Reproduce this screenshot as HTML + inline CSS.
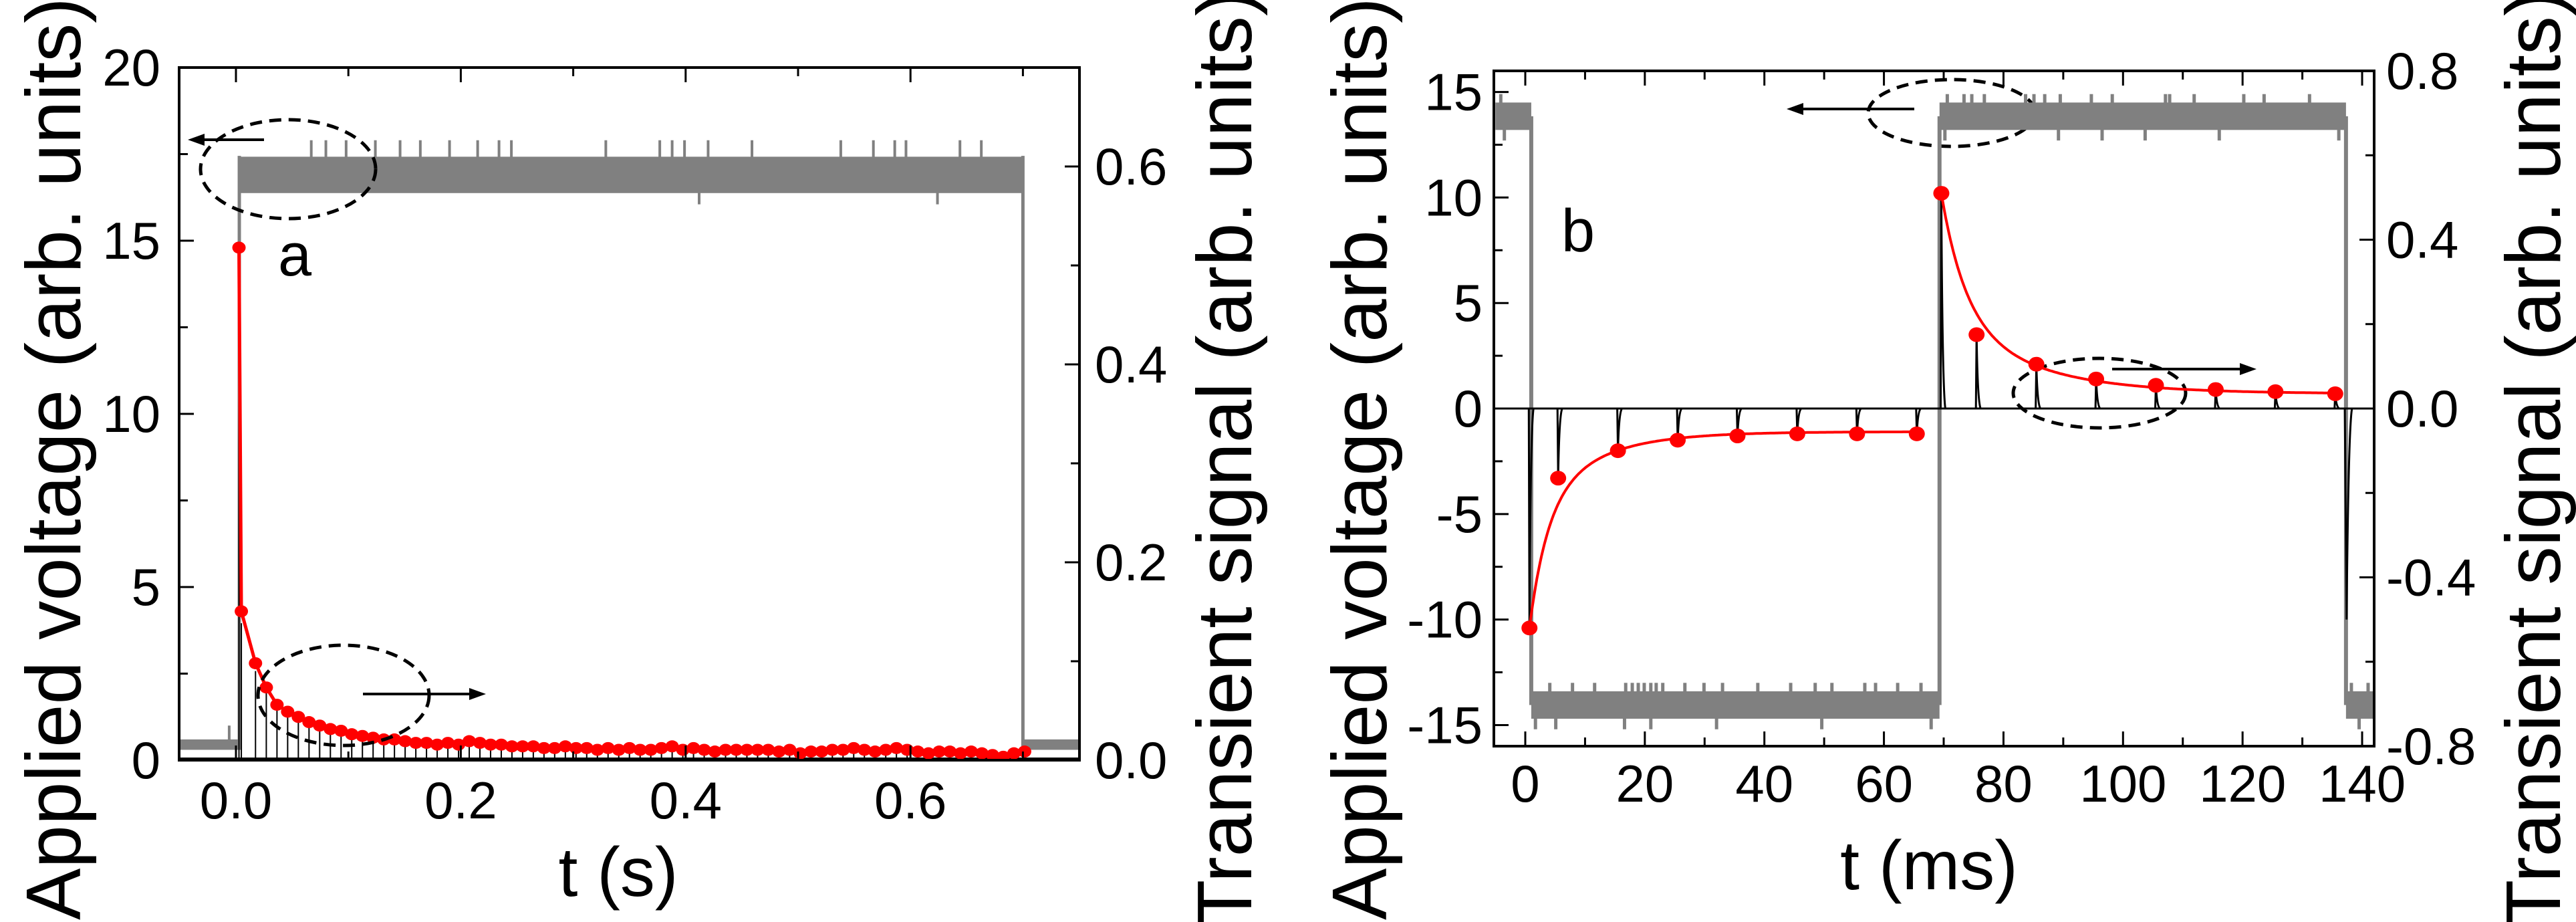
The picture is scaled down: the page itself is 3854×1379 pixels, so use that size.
<!DOCTYPE html>
<html><head><meta charset="utf-8"><style>
html,body{margin:0;padding:0;background:#fff;}
svg{display:block;font-family:"Liberation Sans",Arial,sans-serif;}
</style></head><body>
<svg id="fig" width="3854" height="1379" viewBox="0 0 3854 1379" xmlns="http://www.w3.org/2000/svg">
<g id="pa"></g>
<g id="pb"></g>
</svg>
<script>
// ---------- Panel A data ----------
const tA_early = [0.0027, 0.0048, 0.0174, 0.027];
const transientA = [14.8,4.3,2.8,2.1,
1.6,1.4,1.25,1.1,1.0,0.9,0.85,0.75,0.7,0.65,
0.6,0.6,0.55,0.5,0.5,0.45,0.5,0.45,0.55,0.5,
0.45,0.45,0.4,0.4,0.4,0.35,0.35,0.4,0.35,0.35,
0.3,0.35,0.3,0.35,0.3,0.3,0.35,0.4,0.3,0.35,
0.3,0.25,0.3,0.3,0.3,0.3,0.3,0.25,0.3,0.2,
0.25,0.25,0.3,0.3,0.35,0.3,0.25,0.3,0.35,0.3,
0.25,0.2,0.25,0.25,0.2,0.25,0.2,0.15,0.1,0.2,
0.25];
const voltA_levels = [0.45, 16.9, 0.45];
const voltA_edges = [0.003, 0.700];
const spikesUpA = [0.067,0.080,0.098,0.124,0.146,0.164,0.190,0.215,0.234,0.245,0.329,0.377,0.388,0.399,0.420,0.459,0.538,0.567,0.586,0.596,0.644,0.663];
const spikesDownA = [0.412,0.624];
const xTicksA = [0.0,0.2,0.4,0.6];
const yTicksLA = [0,5,10,15,20];
const yTicksRA = [0.0,0.2,0.4,0.6];
// ---------- Panel B data ----------
const tB = [0.7,5.5,15.5,25.5,35.5,45.5,55.5,65.5,69.6,75.5,85.5,95.5,105.5,115.5,125.5,135.5];
const transientB = [-10.4,-3.3,-2.0,-1.5,-1.3,-1.2,-1.2,-1.2,10.2,3.5,2.1,1.4,1.1,0.9,0.8,0.7];
const fitNegB = [-1.1, -9.3, 0.6, 3, 10]; // offset, amplitude, weight, tau1, tau2
const fitPosB = [0.7, 9.5, 0.6, 4, 14];
const voltB_edges = [-5, 1.0, 69.3, 137.3, 142];
const voltB_levels = [13.85, -14.05, 13.85, -14.05];
const spikesUpB = [-4.1,70.6,73.4,74.7,76.8,83.7,85.1,86.9,89.5,94.7,98.2,107.1,107.8,111.9,120.2,123.6,131.2,4.1,7.9,11.6,16.8,17.9,18.9,19.9,21.0,21.9,23.0,26.7,29.9,33.0,38.9,44.4,48.5,51.3,56.8,58.6,62.3,66.2,138.2,141];
const spikesDownB = [-3.5,70.2,89.2,96.5,103.7,116.1,136.1,1.7,5.1,16.6,21.0,32.0,49.6,67.9,139.5];
const xTicksB = [0,20,40,60,80,100,120,140];
const yTicksLB = [-15,-10,-5,0,5,10,15];
const yTicksRB = [-0.8,-0.4,0.0,0.4,0.8];

const NS="http://www.w3.org/2000/svg";
function mk(parent, tag, attrs, text){
  const e=document.createElementNS(NS,tag);
  for(const k in attrs) e.setAttribute(k,attrs[k]);
  if(text!==undefined) e.textContent=text;
  parent.appendChild(e); return e;
}
const GRAY="#808080", RED="#ff0000";

// ================= PANEL A =================
(function(){
  const g=document.getElementById('pa');
  const L=268,R=1615,T=101,B=1137;
  const xA=t=>353+t*1682;
  const yL=v=>B-v*(B-T)/20;
  const yR=r=>B-r*(B-T)/0.7;
  const clip=mk(g,'clipPath',{id:'clipA'}); mk(clip,'rect',{x:L,y:T,width:R-L,height:B-T});
  const plot=mk(g,'g',{'clip-path':'url(#clipA)'});
   
  const v=mk(plot,'g',{fill:GRAY,stroke:GRAY});
   
  const xs=[xA(-0.06),xA(voltA_edges[0]),xA(voltA_edges[1]),xA(0.76)];
  const lvH=[0.3,1.05,0.3];
  for(let i=0;i<3;i++){
    const c=voltA_levels[i], h=lvH[i];
    mk(v,'rect',{x:xs[i],y:yL(c+h/2),width:xs[i+1]-xs[i],height:yL(c-h/2)-yL(c+h/2),stroke:'none'});
  }
  mk(v,'line',{x1:xs[1],y1:yL(0.3),x2:xs[1],y2:yL(17.45),'stroke-width':5});
  mk(v,'line',{x1:xs[2],y1:yL(0.3),x2:xs[2],y2:yL(17.45),'stroke-width':5});
  mk(v,'line',{x1:xA(-0.006),y1:yL(0.45),x2:xA(-0.006),y2:yL(1.0),'stroke-width':4});
  spikesUpA.forEach(t=>mk(v,'line',{x1:xA(t),y1:yL(17),x2:xA(t),y2:yL(17.9),'stroke-width':4}));
  spikesDownA.forEach(t=>mk(v,'line',{x1:xA(t),y1:yL(16.8),x2:xA(t),y2:yL(16.05),'stroke-width':4}));
  const tA=tA_early.slice();
  for(let i=0;i<transientA.length-tA_early.length;i++) tA.push(0.0365+0.0095*i);
  const bk=mk(plot,'g',{stroke:'#000'});
   
  mk(bk,'line',{x1:L,y1:yL(0)-2,x2:R,y2:yL(0)-2,'stroke-width':4});
  tA.forEach((t,i)=>mk(bk,'line',{x1:xA(t),y1:yL(0),x2:xA(t),y2:yL(transientA[i]*0.92),'stroke-width':2}));
  const pts=tA.map((t,i)=>xA(t)+','+yL(transientA[i])).join(' ');
  const pl=mk(plot,'polyline',{points:pts,fill:'none',stroke:RED,'stroke-width':5});
   
  tA.forEach((t,i)=>{
    const c=mk(plot,'ellipse',{cx:xA(t),cy:yL(transientA[i]),rx:10,ry:9,fill:RED});
     
  });
  const an=mk(g,'g',{fill:'none',stroke:'#000','stroke-width':5,'stroke-dasharray':'18 11'});
   
  mk(an,'ellipse',{cx:431,cy:253,rx:131,ry:74});
  mk(an,'ellipse',{cx:514,cy:1040,rx:128,ry:75});
  const ar=mk(g,'g',{stroke:'#000','stroke-width':4,fill:'#000'});
   
  mk(ar,'line',{x1:395,y1:209,x2:300,y2:209});
  mk(ar,'polygon',{points:'281,209 306,200 306,218',stroke:'none'});
  mk(ar,'line',{x1:543,y1:1038,x2:705,y2:1038});
  mk(ar,'polygon',{points:'727,1038 702,1029 702,1047',stroke:'none'});
  const la=mk(g,'text',{x:441,y:412,'font-size':90,'text-anchor':'middle'},'a');
   
  const fr=mk(g,'rect',{x:L,y:T,width:R-L,height:B-T,fill:'none',stroke:'#000','stroke-width':4});
   
  const tk=mk(g,'g',{stroke:'#000','stroke-width':3});
   
  for(let k=0;k<=7;k++){const t=k*0.1,x=xA(t),len=(k%2===0)?22:13;
    mk(tk,'line',{x1:x,y1:B,x2:x,y2:B-len}); mk(tk,'line',{x1:x,y1:T,x2:x,y2:T+len});}
  for(let k=0;k<=8;k++){const y=yL(k*2.5),len=(k%2===0)?22:13; mk(tk,'line',{x1:L,y1:y,x2:L+len,y2:y});}
  for(let k=0;k<=7;k++){const y=yR(k*0.1),len=(k%2===0)?22:13; mk(tk,'line',{x1:R,y1:y,x2:R-len,y2:y});}
  xTicksA.forEach(t=>{const e=mk(g,'text',{x:xA(t),y:1224,'font-size':78,'text-anchor':'middle'},t.toFixed(1));
     });
  yTicksLA.forEach(v=>{const e=mk(g,'text',{x:240,y:yL(v)+27,'font-size':78,'text-anchor':'end'},String(v));
     });
  yTicksRA.forEach(v=>{const e=mk(g,'text',{x:1638,y:yR(v)+27,'font-size':78,'text-anchor':'start'},v.toFixed(1));
     });
  const xt=mk(g,'text',{x:925,y:1340,'font-size':104,'text-anchor':'middle'},'t (s)');
   
  const yt=mk(g,'text',{x:0,y:0,'font-size':116,'text-anchor':'middle',transform:'translate(120,686) rotate(-90)'},'Applied voltage (arb. units)');
   
  const yt2=mk(g,'text',{x:0,y:0,'font-size':116,'text-anchor':'middle',transform:'translate(1872,686) rotate(-90)'},'Transient signal (arb. units)');
   
})();

// ================= PANEL B =================
(function(){
  const g=document.getElementById('pb');
  const L=2235,R=3552,T=106,B=1116;
  const xB=t=>2282+t*8.943;
  const yL=v=>611-v*(B-T)/32;
  const yR=r=>611-r*(B-T)/1.6;
  const clip=mk(g,'clipPath',{id:'clipB'}); mk(clip,'rect',{x:L,y:T,width:R-L,height:B-T});
  const plot=mk(g,'g',{'clip-path':'url(#clipB)'});
   
  const an=mk(plot,'g',{fill:'none',stroke:'#000','stroke-width':5,'stroke-dasharray':'18 11'});
   
  mk(an,'ellipse',{cx:2920,cy:169,rx:125,ry:50});
  mk(an,'ellipse',{cx:3141,cy:588,rx:129,ry:52});
  const v=mk(plot,'g',{fill:GRAY,stroke:GRAY});
   
  const h=1.3;
  for(let i=0;i<voltB_levels.length;i++){
    const c=voltB_levels[i],x1=xB(voltB_edges[i]),x2=xB(voltB_edges[i+1]);
    mk(v,'rect',{x:x1,y:yL(c+h/2),width:x2-x1,height:yL(c-h/2)-yL(c+h/2),stroke:'none'});
    if(i>0) mk(v,'line',{x1:x1,y1:yL(voltB_levels[i-1]),x2:x1,y2:yL(c),'stroke-width':6});
  }
  function levelAt(t){for(let i=0;i<voltB_levels.length;i++){if(t<voltB_edges[i+1])return voltB_levels[i];}return voltB_levels[voltB_levels.length-1];}
  spikesUpB.forEach(t=>{const c=levelAt(t);mk(v,'line',{x1:xB(t),y1:yL(c),x2:xB(t),y2:yL(c+1.05),'stroke-width':5});});
  spikesDownB.forEach(t=>{const c=levelAt(t);mk(v,'line',{x1:xB(t),y1:yL(c),x2:xB(t),y2:yL(c-1.15),'stroke-width':5});});
  const bk=mk(plot,'g',{stroke:'#000',fill:'none'});
   
  mk(bk,'line',{x1:L,y1:yL(0),x2:R,y2:yL(0),'stroke-width':3});
  tB.forEach((t,i)=>{
    const x=xB(t),y0=yL(0),y1=yL(transientB[i]);
    mk(bk,'path',{d:`M${x-1},${y0} L${x},${y1} Q${x+1.5},${(y0*0.9+y1*0.1)} ${x+6},${y0}`,'stroke-width':3});
  });
  mk(bk,'path',{d:`M${xB(137.1)},${yL(0)} L${xB(137.4)},${yL(-10)} Q${xB(137.7)},${yL(-1)} ${xB(138.3)},${yL(0)}`,'stroke-width':3});
  function fit(p,t0,t1){let d='';for(let t=t0;t<=t1+1e-9;t+=0.25){const dt=t-t0;
      const y=p[0]+p[1]*(p[2]*Math.exp(-dt/p[3])+(1-p[2])*Math.exp(-dt/p[4]));
      d+=(d?'L':'M')+xB(t).toFixed(1)+','+yL(y).toFixed(1);}return d;}
  const f1=mk(plot,'path',{d:fit(fitNegB,tB[0],tB[7]),fill:'none',stroke:RED,'stroke-width':4});
   
  const f2=mk(plot,'path',{d:fit(fitPosB,tB[8],tB[15]),fill:'none',stroke:RED,'stroke-width':4});
   
  tB.forEach((t,i)=>{
    const c=mk(plot,'ellipse',{cx:xB(t),cy:yL(transientB[i]),rx:12,ry:11,fill:RED});
     
  });
  const ar=mk(g,'g',{stroke:'#000','stroke-width':4,fill:'#000'});
   
  mk(ar,'line',{x1:2864,y1:163,x2:2692,y2:163});
  mk(ar,'polygon',{points:'2673,163 2698,154 2698,172',stroke:'none'});
  mk(ar,'line',{x1:3160,y1:552,x2:3356,y2:552});
  mk(ar,'polygon',{points:'3376,552 3351,543 3351,561',stroke:'none'});
  const lb=mk(g,'text',{x:2361,y:376,'font-size':90,'text-anchor':'middle'},'b');
   
  const fr=mk(g,'rect',{x:L,y:T,width:R-L,height:B-T,fill:'none',stroke:'#000','stroke-width':4});
   
  const tk=mk(g,'g',{stroke:'#000','stroke-width':3});
   
  for(let k=0;k<=14;k++){const x=xB(k*10),len=(k%2===0)?22:13;
    mk(tk,'line',{x1:x,y1:B,x2:x,y2:B-len}); mk(tk,'line',{x1:x,y1:T,x2:x,y2:T+len});}
  for(let k=-6;k<=6;k++){const y=yL(k*2.5),len=(k%2===0)?22:13; mk(tk,'line',{x1:L,y1:y,x2:L+len,y2:y});}
  for(let k=-4;k<=4;k++){const y=yR(k*0.2),len=(k%2===0)?22:13; mk(tk,'line',{x1:R,y1:y,x2:R-len,y2:y});}
  xTicksB.forEach(t=>{const e=mk(g,'text',{x:xB(t),y:1199,'font-size':78,'text-anchor':'middle'},String(t));
     });
  yTicksLB.forEach(v=>{const e=mk(g,'text',{x:2218,y:yL(v)+27,'font-size':78,'text-anchor':'end'},String(v));
     });
  yTicksRB.forEach(v=>{const e=mk(g,'text',{x:3570,y:Math.min(yR(v)+27,1145),'font-size':78,'text-anchor':'start'},v.toFixed(1));
     });
  const xt=mk(g,'text',{x:2886,y:1330,'font-size':104,'text-anchor':'middle'},'t (ms)');
   
  const yt=mk(g,'text',{x:0,y:0,'font-size':116,'text-anchor':'middle',transform:'translate(2074,686) rotate(-90)'},'Applied voltage (arb. units)');
   
  const yt2=mk(g,'text',{x:0,y:0,'font-size':116,'text-anchor':'middle',transform:'translate(3830,686) rotate(-90)'},'Transient signal (arb. units)');
   
})();
</script>
</body></html>
